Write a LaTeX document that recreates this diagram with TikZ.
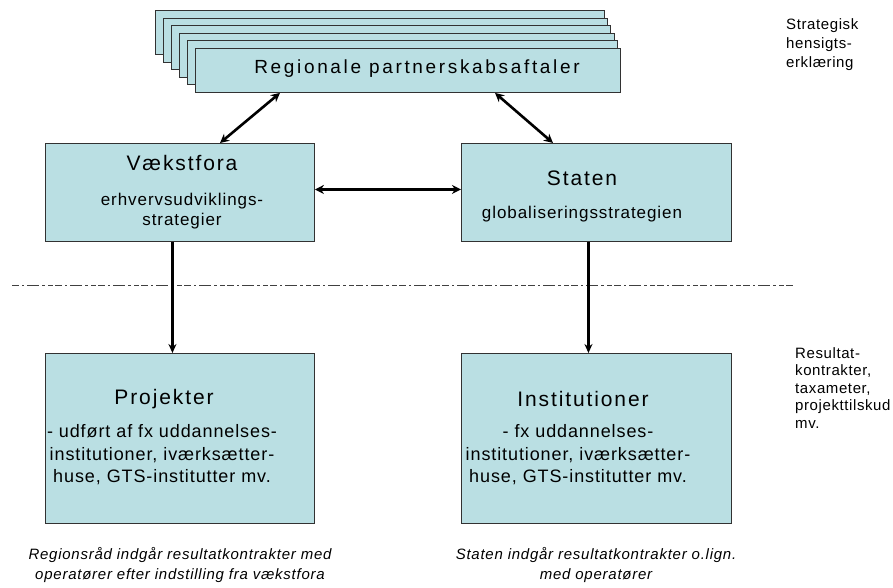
\documentclass[tikz,border=0pt]{standalone}
\usepackage{fontspec}
\setmainfont{Liberation Sans}
\usetikzlibrary{arrows.meta}
\definecolor{boxfill}{RGB}{186,223,227}
\definecolor{boxline}{RGB}{50,50,50}
\begin{document}
\begin{tikzpicture}[x=1pt,y=-1pt,
  box/.style={draw=boxline, fill=boxfill, line width=0.9pt, inner sep=0pt, anchor=north west},
  txt/.style={inner sep=0pt, align=center, text=black},
  ttl/.style={txt, font=\fontsize{21}{25}\selectfont\addfontfeature{LetterSpace=9}},
  sub/.style={txt, font=\fontsize{17}{20}\selectfont\addfontfeature{LetterSpace=5.5}},
  body/.style={txt, font=\fontsize{18}{22.5}\selectfont\addfontfeature{LetterSpace=5}},
  side/.style={inner sep=0pt, align=left, anchor=west, font=\fontsize{15}{17.5}\selectfont\addfontfeature{LetterSpace=4}},
  note/.style={txt, font=\fontsize{15}{19.5}\selectfont\itshape\addfontfeature{LetterSpace=5}},
  dbl/.style={line width=2.6pt, {Stealth[length=9pt,width=9pt]}-{Stealth[length=9pt,width=9pt]}},
  dbh/.style={line width=3.4pt, {Stealth[length=9pt,width=9pt]}-{Stealth[length=9pt,width=9pt]}},
  down/.style={line width=2.5pt, -{Stealth[length=9pt,width=8pt]}},
  dashln/.style={line width=1pt, draw=black!75, dash pattern=on 7pt off 3pt on 2pt off 3pt on 12pt off 3pt on 3pt off 3pt on 5pt off 2pt}
]
\useasboundingbox (0,0) rectangle (893,587);

% stacked partnership boxes
\foreach \i in {0,...,5}{
  \node[box, minimum width={449-4.8*\i}, minimum height=44] (p\i) at ({155+8*\i},{10+7.6*\i}) {};
}
\node[txt, font=\fontsize{19}{23}\selectfont\addfontfeature{LetterSpace=14}] (rp) at (417,69) {Regionale partnerskabsaftaler};

% main boxes
\node[box, minimum width=269, minimum height=98] (vf) at (45,143) {};
\node[box, minimum width=270, minimum height=98] (st) at (461,143) {};
\node[box, minimum width=269, minimum height=170] (pr) at (45,353) {};
\node[box, minimum width=270, minimum height=170] (inst) at (461,353) {};

\node[ttl] (vft) at (182,163) {Vækstfora};
\node[sub] (vfs) at (182,211) {erhvervsudviklings-\\strategier};
\node[ttl] (stt) at (582,178) {Staten};
\node[sub] (sts) at (582,214) {globaliseringsstrategien};
\node[ttl] (prt) at (164,399) {Projekter};
\node[body] (prb) at (162,455) {- udført af fx uddannelses-\\institutioner, iværksætter-\\huse, GTS-institutter mv.};
\node[ttl] (intt) at (583,399) {Institutioner};
\node[body] (inb) at (578,455) {- fx uddannelses-\\institutioner, iværksætter-\\huse, GTS-institutter mv.};

% dashed separator
\coordinate (d1) at (12,285);
\coordinate (d2) at (794,285);
\draw[dashln] (d1) -- (d2);

% connectors
\draw[dbl] ([xshift=85pt]p5.south west) -- ([xshift=175pt]vf.north west);
\draw[dbl] ([xshift=300pt]p5.south west) -- ([xshift=92pt]st.north west);
\draw[dbh] ([yshift=3pt]vf.east) -- ([yshift=3pt]st.west);
\draw[down] ([xshift=-7.5pt]vf.south) -- ([xshift=-7.5pt]pr.north);
\draw[down] ([xshift=-8pt]st.south) -- ([xshift=-8pt]inst.north);

% side notes
\node[side, font=\fontsize{15}{19}\selectfont\addfontfeature{LetterSpace=4}] (s1) at (786,45) {Strategisk\\hensigts-\\erklæring};
\node[side] (s2) at (795,388) {Resultat-\\kontrakter,\\taxameter,\\projekttilskud\\mv.};

% bottom notes
\node[note] (n1) at (180,565) {Regionsråd indgår resultatkontrakter med\\operatører efter indstilling fra vækstfora};
\node[note] (n2) at (596,565) {Staten indgår resultatkontrakter o.lign.\\med operatører};
\end{tikzpicture}
\end{document}
